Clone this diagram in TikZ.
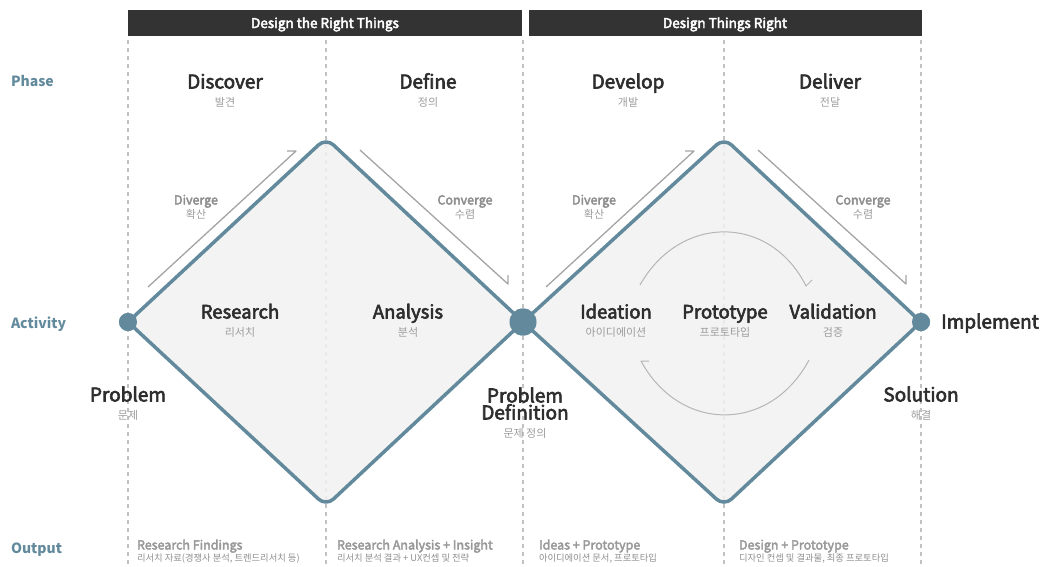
\documentclass[tikz,border=0pt]{standalone}
\usepackage{fontspec}
\setmainfont{Noto Sans CJK KR}
\newfontfamily\krfont{Noto Sans CJK KR}
\newfontfamily\semifont{Noto Sans CJK KR}[FakeBold=3.2]
\usetikzlibrary{arrows.meta}
\definecolor{ddblue}{HTML}{628A9C}
\definecolor{ddfill}{HTML}{F1F1F1}
\definecolor{ddbar}{HTML}{333333}
\definecolor{ddtext}{HTML}{2E2E2E}
\definecolor{ddgray}{HTML}{8E8E8E}
\definecolor{ddsub}{HTML}{9C9C9C}
\definecolor{dddash}{HTML}{C2C2C2}

\begin{document}
\begin{tikzpicture}[x=1pt, y=-1pt, line join=round,
	every node/.style={inner sep=0pt, outer sep=0pt},
	bar/.style={fill=ddbar},
	bartext/.style={font=\fontsize{13.5}{13}\semifont, text=white, anchor=base},
	rowlabel/.style={font=\fontsize{14}{14}\selectfont\bfseries, text=ddblue, anchor=base west},
	phase/.style={font=\fontsize{19}{19}\semifont, text=ddtext, anchor=base},
	activity/.style={font=\fontsize{18.5}{18}\semifont, text=ddtext, anchor=base},
	krsub/.style={font=\fontsize{11}{11}\krfont, text=ddsub, anchor=base},
	hint/.style={font=\fontsize{12.5}{12}\semifont, text=ddgray, anchor=base},
	outtitle/.style={font=\fontsize{12.5}{12}\semifont, text=ddgray!90, anchor=base west},
	outsub/.style={font=\fontsize{9.3}{9}\krfont, text=ddgray, anchor=base west},
	guide/.style={dddash, line width=1.2pt, dash pattern=on 4pt off 4pt},
	diamond/.style={draw=ddblue, line width=3.5pt, rounded corners=10pt},
	dot/.style={circle, fill=ddblue},
	flow/.style={ddgray!80, line width=1.3pt},
	loop/.style={ddgray!65, line width=1pt}]
	\useasboundingbox (0,0) rectangle (1041,566);
	% header bars
	\fill[bar] (128,10) rectangle (522,36);
	\node[bartext] (right-things) at (325,28) {Design the Right Things};
	\fill[bar] (529,10) rectangle (922,36);
	\node[bartext] (things-right) at (725,28) {Design Things Right};
	% column guides
	\foreach \x in {128,326,523,724,921}
		\draw[guide] (\x,40) -- (\x,566);
	% corners of the two diamonds
	\coordinate (top1) at (326,138);
	\coordinate (bot1) at (326,506);
	\coordinate (top2) at (724,138);
	\coordinate (bot2) at (724,506);
	\node[dot, minimum size=18pt] (problem-pt) at (128,322) {};
	\node[dot, minimum size=27pt] (definition-pt) at (523,322) {};
	\node[dot, minimum size=18pt] (solution-pt) at (921,322) {};
	\fill[ddfill, fill opacity=0.85, rounded corners=10pt] (problem-pt.center) -- (top1) -- (definition-pt.center) -- (bot1) -- cycle;
	\fill[ddfill, fill opacity=0.85, rounded corners=10pt] (definition-pt.center) -- (top2) -- (solution-pt.center) -- (bot2) -- cycle;
	\draw[diamond] (problem-pt.center) -- (top1) -- (definition-pt.center) -- (bot1) -- cycle;
	\draw[diamond] (definition-pt.center) -- (top2) -- (solution-pt.center) -- (bot2) -- cycle;
	\node[dot, minimum size=18pt] at (problem-pt) {};
	\node[dot, minimum size=27pt] at (definition-pt) {};
	\node[dot, minimum size=18pt] at (solution-pt) {};
	% diverge / converge
	\foreach \dx/\n in {0/1,398/2} {
		\coordinate (div\n-a) at (148+\dx,287);
		\coordinate (div\n-b) at (296+\dx,151);
		\coordinate (con\n-a) at (360+\dx,150);
		\coordinate (con\n-b) at (508+\dx,284);
		\draw[flow] (div\n-a) -- (div\n-b) -- ++(-9,0);
		\draw[flow] (con\n-a) -- (con\n-b) -- ++(0,-9);
		\node[hint] (diverge\n) at (196+\dx,204.5) {Diverge};
		\node[krsub] (diverge\n-kr) at (196+\dx,218) {확산};
		\node[hint] (converge\n) at (465+\dx,204.5) {Converge};
		\node[krsub] (converge\n-kr) at (465+\dx,218) {수렴};
	}
	% iteration loop
	\coordinate (loop-a) at (640,285);
	\coordinate (loop-b) at (806,286);
	\coordinate (loop-c) at (809,360);
	\coordinate (loop-d) at (641,361);
	\draw[loop] (loop-a) .. controls (680,214) and (770,214) .. (loop-b) -- ++(6,-6);
	\draw[loop] (loop-c) .. controls (770,433) and (680,433) .. (loop-d) -- ++(8,0);
	% row labels
	\node[rowlabel] (phase-lbl) at (11,86.5) {Phase};
	\node[rowlabel] (activity-lbl) at (11,328.5) {Activity};
	\node[rowlabel] (output-lbl) at (11,553.5) {Output};
	% phases
	\node[phase] (discover) at (225,88.5) {Discover};
	\node[krsub] (discover-kr) at (225,106) {발견};
	\node[phase] (define) at (428,88.5) {Define};
	\node[krsub] (define-kr) at (428,106) {정의};
	\node[phase] (develop) at (628,88.5) {Develop};
	\node[krsub] (develop-kr) at (628,106) {개발};
	\node[phase] (deliver) at (830,88.5) {Deliver};
	\node[krsub] (deliver-kr) at (830,106) {전달};
	% activities
	\node[activity] (research) at (240,318.5) {Research};
	\node[krsub] (research-kr) at (240,336) {리서치};
	\node[activity] (analysis) at (408,318.5) {Analysis};
	\node[krsub] (analysis-kr) at (408,336) {분석};
	\node[activity] (ideation) at (616,318.5) {Ideation};
	\node[krsub] (ideation-kr) at (616,336) {아이디에이션};
	\node[activity] (prototype) at (725,318.5) {Prototype};
	\node[krsub] (prototype-kr) at (725,336) {프로토타입};
	\node[activity] (validation) at (833,318.5) {Validation};
	\node[krsub] (validation-kr) at (833,336) {검증};
	% start / middle / end points
	\node[phase] (problem) at (128,401.5) {Problem};
	\node[krsub] (problem-kr) at (128,419) {문제};
	\node[phase, anchor=center, align=center, font=\fontsize{19}{17}\semifont] (definition) at (525,403.5) {Problem\\Definition};
	\node[krsub] (definition-kr) at (525,437) {문제 정의};
	\node[phase] (solution) at (921,401.5) {Solution};
	\node[krsub] (solution-kr) at (921,419) {해결};
	\node[phase] (implement) at (990,328.5) {Implement};
	% outputs
	\node[outtitle] (out1) at (137,549.5) {Research Findings};
	\node[outsub] (out1-kr) at (137,561.5) {리서치 자료(경쟁사 분석, 트렌드리서치 등)};
	\node[outtitle] (out2) at (337,549.5) {Research Analysis + Insight};
	\node[outsub] (out2-kr) at (337,561.5) {리서치 분석 결과 + UX컨셉 및 전략};
	\node[outtitle] (out3) at (539,549.5) {Ideas + Prototype};
	\node[outsub] (out3-kr) at (539,561.5) {아이디에이션 문서, 프로토타입};
	\node[outtitle] (out4) at (739,549.5) {Design + Prototype};
	\node[outsub] (out4-kr) at (739,561.5) {디자인 컨셉 및 결과물, 최종 프로토타입};
\end{tikzpicture}
\end{document}
